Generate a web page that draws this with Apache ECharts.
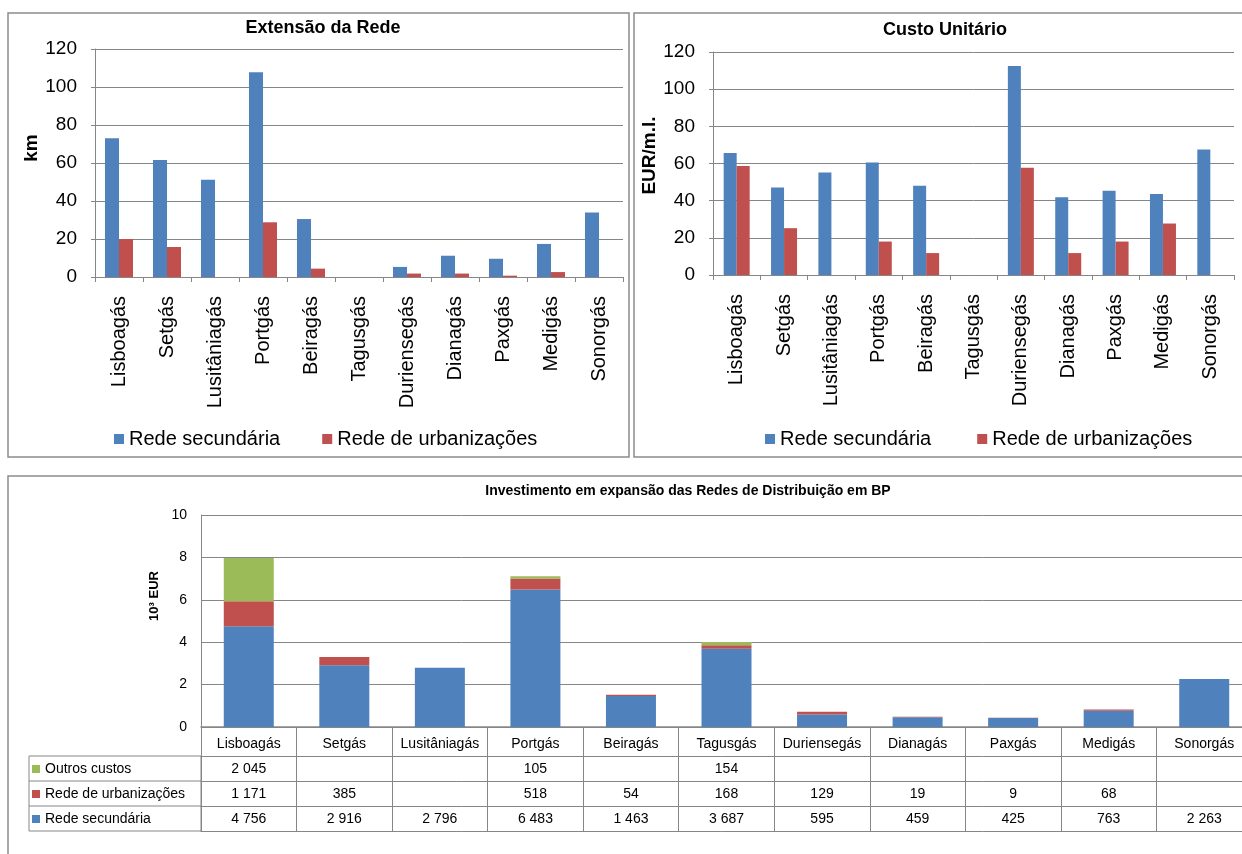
<!DOCTYPE html>
<html>
<head>
<meta charset="utf-8">
<script src="https://cdn.jsdelivr.net/npm/echarts@6/dist/echarts.min.js"></script>
<style>
html,body{margin:0;padding:0;background:#fff;}
#chart{width:1242px;height:854px;}
</style>
</head>
<body>
<div id="chart"></div>
<script>
// ---- DATA ----
const categories = ['Lisboagás','Setgás','Lusitâniagás','Portgás','Beiragás','Tagusgás','Duriensegás','Dianagás','Paxgás','Medigás','Sonorgás'];
// Extensão da Rede (km)
const extSecundaria   = [73.0, 61.6, 51.2, 107.7, 30.5, 0, 5.3, 11.2, 9.6, 17.4, 33.9];
const extUrbanizacoes = [20.0, 15.8, 0, 28.8, 4.4, 0, 1.8, 1.8, 0.7, 2.6, 0];
// Custo Unitário (EUR/m.l.)
const custoSecundaria   = [65.7, 47.1, 55.2, 60.5, 48.0, 0, 112.5, 41.8, 45.4, 43.6, 67.5];
const custoUrbanizacoes = [58.6, 25.2, 0, 18.0, 11.8, 0, 57.7, 11.8, 18.0, 27.7, 0];
// Investimento (10^3 EUR, table values)
const invSecundaria   = [4756, 2916, 2796, 6483, 1463, 3687, 595, 459, 425, 763, 2263];
const invUrbanizacoes = [1171, 385, null, 518, 54, 168, 129, 19, 9, 68, null];
const invOutros       = [2045, null, null, 105, null, 154, null, null, null, null, null];
// Axis tick settings
const topTicks = {min: 0, max: 120, interval: 20};
const bottomTicks = {min: 0, max: 10, interval: 2};

const seriesNames = {sec: 'Rede secundária', urb: 'Rede de urbanizações', out: 'Outros custos'};
const colors = {sec: '#4F81BD', urb: '#C0504D', out: '#9BBB59'};

// ---- HELPERS ----
const FONT = '"Liberation Sans", Arial, sans-serif';
const GRAY = '#868686';
const fmtThousands = v => (v === null || v === undefined) ? '' : String(v).replace(/\B(?=(\d{3})+(?!\d))/g, ' ');
const toK = arr => arr.map(v => v === null ? null : v / 1000);

function topXAxis(gridIndex) {
  return {
    type: 'category', gridIndex, data: categories, position: 'bottom',
    axisLine: {show: true, onZero: false, lineStyle: {color: GRAY, width: 1}},
    axisTick: {show: true, length: 5, alignWithLabel: false, interval: 0, lineStyle: {color: GRAY}},
    axisLabel: {interval: 0, rotate: 90, margin: 19, fontSize: 20, color: '#000', fontFamily: FONT},
    splitLine: {show: false}
  };
}
function topYAxis(gridIndex, name, gap, pad) {
  return {
    type: 'value', gridIndex, min: topTicks.min, max: topTicks.max, interval: topTicks.interval,
    name, nameLocation: 'middle', nameRotate: 90, nameGap: gap,
    nameTextStyle: {fontSize: 19, fontWeight: 'bold', color: '#000', fontFamily: FONT, padding: [0, 0, 0, pad]},
    axisLine: {show: true, lineStyle: {color: GRAY, width: 1}},
    axisTick: {show: true, length: 4, lineStyle: {color: GRAY}},
    axisLabel: {margin: 18, fontSize: 19, color: '#000', fontFamily: FONT},
    splitLine: {show: true, lineStyle: {color: GRAY, width: 1}}
  };
}
function tableAxis(offset, values, showLabel) {
  return {
    type: 'category', gridIndex: 2, data: categories, position: 'bottom', offset,
    axisLine: {show: true, onZero: false, lineStyle: {color: GRAY, width: 1}},
    axisTick: {show: false},
    axisLabel: {show: showLabel, interval: 0, margin: 6, fontSize: 14, color: '#000', fontFamily: FONT,
      formatter: (val, idx) => fmtThousands(values[idx])},
    splitLine: {show: false}
  };
}

const option = {
  animation: false,
  backgroundColor: '#fff',
  textStyle: {fontFamily: FONT},
  grid: [
    {left: 95, top: 49, width: 528, height: 228, containLabel: false, outerBoundsMode: 'none'},
    {left: 713, top: 52, width: 521, height: 223, containLabel: false, outerBoundsMode: 'none'},
    {left: 201, top: 515, width: 1051, height: 212, containLabel: false, outerBoundsMode: 'none'}
  ],
  legend: [
    {left: 109, top: 424, orient: 'horizontal', itemWidth: 10, itemHeight: 10, itemGap: 42, icon: 'rect',
      data: [seriesNames.sec, seriesNames.urb], selectedMode: false,
      textStyle: {fontSize: 20, color: '#000', fontFamily: FONT}},
    {left: 760, top: 424, orient: 'horizontal', itemWidth: 10, itemHeight: 10, itemGap: 46, icon: 'rect',
      data: [seriesNames.sec, seriesNames.urb], selectedMode: false,
      textStyle: {fontSize: 20, color: '#000', fontFamily: FONT}},
    {left: 27, top: 756, orient: 'vertical', itemWidth: 8, itemHeight: 8, itemGap: 9, icon: 'rect', itemTextGap: 5,
      data: [seriesNames.out, seriesNames.urb, seriesNames.sec], selectedMode: false,
      textStyle: {fontSize: 14, lineHeight: 16, color: '#000', fontFamily: FONT}}
  ],
  xAxis: [
    topXAxis(0),
    topXAxis(1),
    {
      type: 'category', gridIndex: 2, data: categories, position: 'bottom', offset: 0,
      axisLine: {show: true, onZero: false, lineStyle: {color: GRAY, width: 1.5}},
      axisTick: {show: true, length: 104, alignWithLabel: false, interval: 0, lineStyle: {color: GRAY}},
      axisLabel: {interval: 0, margin: 10, fontSize: 14, color: '#000', fontFamily: FONT},
      splitLine: {show: false}
    },
    tableAxis(29, invOutros, true),
    tableAxis(54, invUrbanizacoes, true),
    tableAxis(79, invSecundaria, true),
    tableAxis(104, invSecundaria, false)
  ],
  yAxis: [
    topYAxis(0, 'km', 52, 30),
    topYAxis(1, 'EUR/m.l.', 52, 16),
    {
      type: 'value', gridIndex: 2, min: bottomTicks.min, max: bottomTicks.max, interval: bottomTicks.interval,
      name: '10³ EUR', nameLocation: 'middle', nameRotate: 90, nameGap: 35,
      nameTextStyle: {fontSize: 13, fontWeight: 'bold', color: '#000', fontFamily: FONT, padding: [0, 0, 0, 50]},
      axisLine: {show: true, lineStyle: {color: GRAY, width: 1}},
      axisTick: {show: false},
      axisLabel: {margin: 14, fontSize: 14, color: '#000', fontFamily: FONT},
      splitLine: {show: true, lineStyle: {color: GRAY, width: 1}}
    }
  ],
  series: [
    {name: seriesNames.sec, type: 'bar', xAxisIndex: 0, yAxisIndex: 0, data: extSecundaria,
      barWidth: 14, barGap: '0%', itemStyle: {color: colors.sec}},
    {name: seriesNames.urb, type: 'bar', xAxisIndex: 0, yAxisIndex: 0, data: extUrbanizacoes,
      barWidth: 14, barGap: '0%', itemStyle: {color: colors.urb}},
    {name: seriesNames.sec, type: 'bar', xAxisIndex: 1, yAxisIndex: 1, data: custoSecundaria,
      barWidth: 13, barGap: '0%', itemStyle: {color: colors.sec}},
    {name: seriesNames.urb, type: 'bar', xAxisIndex: 1, yAxisIndex: 1, data: custoUrbanizacoes,
      barWidth: 13, barGap: '0%', itemStyle: {color: colors.urb}},
    {name: seriesNames.sec, type: 'bar', xAxisIndex: 2, yAxisIndex: 2, stack: 'inv', data: toK(invSecundaria),
      barWidth: 50, itemStyle: {color: colors.sec}},
    {name: seriesNames.urb, type: 'bar', xAxisIndex: 2, yAxisIndex: 2, stack: 'inv', data: toK(invUrbanizacoes),
      barWidth: 50, itemStyle: {color: colors.urb}},
    {name: seriesNames.out, type: 'bar', xAxisIndex: 2, yAxisIndex: 2, stack: 'inv', data: toK(invOutros),
      barWidth: 50, itemStyle: {color: colors.out}}
  ],
  graphic: [
    {type: 'rect', z: -10, silent: true, shape: {x: 8, y: 13, width: 621, height: 444}, style: {fill: 'none', stroke: '#8c8c8c', lineWidth: 1.5}},
    {type: 'rect', z: -10, silent: true, shape: {x: 634, y: 13, width: 620, height: 444}, style: {fill: 'none', stroke: '#8c8c8c', lineWidth: 1.5}},
    {type: 'rect', z: -10, silent: true, shape: {x: 8, y: 476, width: 1250, height: 400}, style: {fill: 'none', stroke: '#8c8c8c', lineWidth: 1.5}},
    {type: 'rect', z: -5, silent: true, shape: {x: 29, y: 756, width: 172, height: 75}, style: {fill: 'none', stroke: GRAY, lineWidth: 1}},
    {type: 'line', z: -5, silent: true, shape: {x1: 29, y1: 781, x2: 201, y2: 781}, style: {stroke: GRAY, lineWidth: 1}},
    {type: 'line', z: -5, silent: true, shape: {x1: 29, y1: 806, x2: 201, y2: 806}, style: {stroke: GRAY, lineWidth: 1}},
    {type: 'text', silent: true, x: 323, y: 19, style: {text: 'Extensão da Rede', align: 'center', verticalAlign: 'top', font: 'bold 18px "Liberation Sans", Arial, sans-serif', fill: '#000'}},
    {type: 'text', silent: true, x: 945, y: 21, style: {text: 'Custo Unitário', align: 'center', verticalAlign: 'top', font: 'bold 18px "Liberation Sans", Arial, sans-serif', fill: '#000'}},
    {type: 'text', silent: true, x: 688, y: 484, style: {text: 'Investimento em expansão das Redes de Distribuição em BP', align: 'center', verticalAlign: 'top', font: 'bold 14px "Liberation Sans", Arial, sans-serif', fill: '#000'}}
  ]
};

const chart = echarts.init(document.getElementById('chart'), null, {renderer: 'canvas'});
chart.setOption(option);
</script>
</body>
</html>
